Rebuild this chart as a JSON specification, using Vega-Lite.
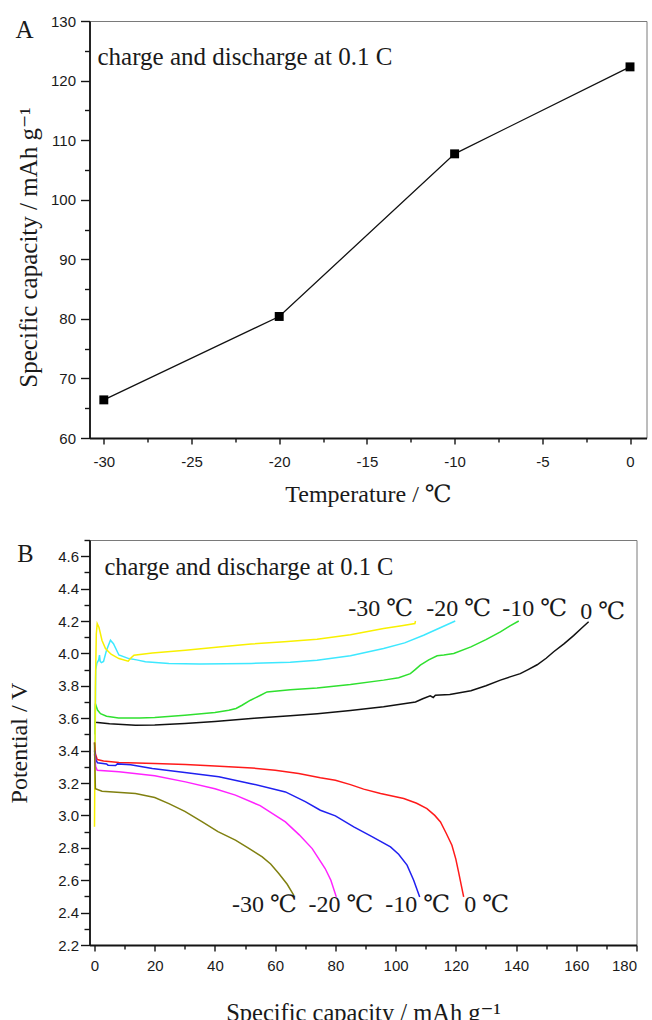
{
  "$schema": "https://vega.github.io/schema/vega-lite/v6.json",
  "background": "white",
  "padding": {"left": 6.5, "top": 13, "right": 0, "bottom": 0},
  "columns": 1,
  "spacing": 31,
  "config": {
    "locale": {"number": {"decimal": ".", "thousands": ",", "grouping": [3], "currency": ["$", ""], "minus": "-"}},
    "view": {"stroke": "#7a7a7a", "strokeWidth": 1},
    "axis": {"grid": false, "domainColor": "#141414", "domainWidth": 1.8, "tickColor": "#141414", "tickWidth": 1.4, "labelFont": "Liberation Sans", "labelFontSize": 15, "labelColor": "#1a1a1a", "titleFont": "Liberation Serif, DejaVu Serif", "titleFontWeight": "normal", "titleColor": "#1a1a1a"}
  },
  "datasets": {
    "capacityA": [
      {"temperature": -30, "capacity": 66.4},
      {"temperature": -20, "capacity": 80.4},
      {"temperature": -10, "capacity": 107.7},
      {"temperature": 0, "capacity": 122.3}
    ],
    "noteA": [
      {"label": "charge and discharge at 0.1 C", "x": -30.36, "y": 122.6},
      {"label": "A", "x": -35.04, "y": 127.15}
    ],
    "noteB": [
      {"label": "charge and discharge at 0.1 C", "cap": 3.3, "v": 4.485},
      {"label": "B", "cap": -25.66, "v": 4.565}
    ],
    "labelsB": [
      {"label": "-30 ℃", "cap": 84.3, "v": 4.23},
      {"label": "-20 ℃", "cap": 110.2, "v": 4.23},
      {"label": "-10 ℃", "cap": 135.4, "v": 4.23},
      {"label": "0 ℃", "cap": 161.3, "v": 4.21},
      {"label": "-30 ℃", "cap": 45.7, "v": 2.404},
      {"label": "-20 ℃", "cap": 71.1, "v": 2.404},
      {"label": "-10 ℃", "cap": 96.6, "v": 2.404},
      {"label": "0 ℃", "cap": 122.8, "v": 2.404}
    ],
    "curves": [
      {"s": "0 ℃ charge", "cap": 0.1, "v": 3.58},
      {"s": "0 ℃ charge", "cap": 0.3, "v": 3.575},
      {"s": "0 ℃ charge", "cap": 5, "v": 3.565},
      {"s": "0 ℃ charge", "cap": 13.6, "v": 3.557},
      {"s": "0 ℃ charge", "cap": 20, "v": 3.558},
      {"s": "0 ℃ charge", "cap": 30, "v": 3.567},
      {"s": "0 ℃ charge", "cap": 40, "v": 3.58},
      {"s": "0 ℃ charge", "cap": 53, "v": 3.6},
      {"s": "0 ℃ charge", "cap": 65, "v": 3.615},
      {"s": "0 ℃ charge", "cap": 74, "v": 3.628},
      {"s": "0 ℃ charge", "cap": 85, "v": 3.648},
      {"s": "0 ℃ charge", "cap": 96, "v": 3.67},
      {"s": "0 ℃ charge", "cap": 106.6, "v": 3.7},
      {"s": "0 ℃ charge", "cap": 109, "v": 3.72},
      {"s": "0 ℃ charge", "cap": 111.5, "v": 3.738},
      {"s": "0 ℃ charge", "cap": 112.5, "v": 3.728},
      {"s": "0 ℃ charge", "cap": 113.2, "v": 3.742},
      {"s": "0 ℃ charge", "cap": 118, "v": 3.746},
      {"s": "0 ℃ charge", "cap": 125, "v": 3.77},
      {"s": "0 ℃ charge", "cap": 130, "v": 3.8},
      {"s": "0 ℃ charge", "cap": 134.8, "v": 3.835},
      {"s": "0 ℃ charge", "cap": 138, "v": 3.855},
      {"s": "0 ℃ charge", "cap": 141.4, "v": 3.875},
      {"s": "0 ℃ charge", "cap": 144, "v": 3.9},
      {"s": "0 ℃ charge", "cap": 147, "v": 3.93},
      {"s": "0 ℃ charge", "cap": 150, "v": 3.97},
      {"s": "0 ℃ charge", "cap": 152.5, "v": 4.01},
      {"s": "0 ℃ charge", "cap": 156, "v": 4.06},
      {"s": "0 ℃ charge", "cap": 159.1, "v": 4.11},
      {"s": "0 ℃ charge", "cap": 162, "v": 4.16},
      {"s": "0 ℃ charge", "cap": 164.1, "v": 4.195},

      {"s": "-10 ℃ charge", "cap": 0.1, "v": 3.5},
      {"s": "-10 ℃ charge", "cap": 0.3, "v": 3.69},
      {"s": "-10 ℃ charge", "cap": 1, "v": 3.65},
      {"s": "-10 ℃ charge", "cap": 2, "v": 3.628},
      {"s": "-10 ℃ charge", "cap": 4, "v": 3.612},
      {"s": "-10 ℃ charge", "cap": 8, "v": 3.602},
      {"s": "-10 ℃ charge", "cap": 15, "v": 3.602},
      {"s": "-10 ℃ charge", "cap": 20, "v": 3.605},
      {"s": "-10 ℃ charge", "cap": 30, "v": 3.618},
      {"s": "-10 ℃ charge", "cap": 40, "v": 3.635},
      {"s": "-10 ℃ charge", "cap": 44.6, "v": 3.649},
      {"s": "-10 ℃ charge", "cap": 47, "v": 3.66},
      {"s": "-10 ℃ charge", "cap": 49, "v": 3.68},
      {"s": "-10 ℃ charge", "cap": 51.8, "v": 3.711},
      {"s": "-10 ℃ charge", "cap": 55, "v": 3.74},
      {"s": "-10 ℃ charge", "cap": 57.3, "v": 3.762},
      {"s": "-10 ℃ charge", "cap": 65, "v": 3.775},
      {"s": "-10 ℃ charge", "cap": 73.9, "v": 3.787},
      {"s": "-10 ℃ charge", "cap": 85, "v": 3.808},
      {"s": "-10 ℃ charge", "cap": 96, "v": 3.835},
      {"s": "-10 ℃ charge", "cap": 101, "v": 3.85},
      {"s": "-10 ℃ charge", "cap": 104.9, "v": 3.875},
      {"s": "-10 ℃ charge", "cap": 106.5, "v": 3.9},
      {"s": "-10 ℃ charge", "cap": 108.2, "v": 3.927},
      {"s": "-10 ℃ charge", "cap": 111, "v": 3.96},
      {"s": "-10 ℃ charge", "cap": 113.8, "v": 3.985},
      {"s": "-10 ℃ charge", "cap": 116, "v": 3.99},
      {"s": "-10 ℃ charge", "cap": 119.3, "v": 3.999},
      {"s": "-10 ℃ charge", "cap": 125, "v": 4.04},
      {"s": "-10 ℃ charge", "cap": 130, "v": 4.085},
      {"s": "-10 ℃ charge", "cap": 134.8, "v": 4.133},
      {"s": "-10 ℃ charge", "cap": 138, "v": 4.17},
      {"s": "-10 ℃ charge", "cap": 140.9, "v": 4.2},

      {"s": "-20 ℃ charge", "cap": 0.2, "v": 3.4},
      {"s": "-20 ℃ charge", "cap": 0.4, "v": 3.9},
      {"s": "-20 ℃ charge", "cap": 0.8, "v": 3.94},
      {"s": "-20 ℃ charge", "cap": 1.4, "v": 3.96},
      {"s": "-20 ℃ charge", "cap": 1.66, "v": 3.99},
      {"s": "-20 ℃ charge", "cap": 1.9, "v": 3.95},
      {"s": "-20 ℃ charge", "cap": 2.3, "v": 3.943},
      {"s": "-20 ℃ charge", "cap": 3, "v": 3.95},
      {"s": "-20 ℃ charge", "cap": 4, "v": 4.02},
      {"s": "-20 ℃ charge", "cap": 5.3, "v": 4.081},
      {"s": "-20 ℃ charge", "cap": 6.3, "v": 4.06},
      {"s": "-20 ℃ charge", "cap": 8.1, "v": 3.99},
      {"s": "-20 ℃ charge", "cap": 11.4, "v": 3.968},
      {"s": "-20 ℃ charge", "cap": 14, "v": 3.96},
      {"s": "-20 ℃ charge", "cap": 16.9, "v": 3.948},
      {"s": "-20 ℃ charge", "cap": 24.7, "v": 3.937},
      {"s": "-20 ℃ charge", "cap": 35, "v": 3.935},
      {"s": "-20 ℃ charge", "cap": 52, "v": 3.938},
      {"s": "-20 ℃ charge", "cap": 65, "v": 3.945},
      {"s": "-20 ℃ charge", "cap": 73.9, "v": 3.958},
      {"s": "-20 ℃ charge", "cap": 85, "v": 3.985},
      {"s": "-20 ℃ charge", "cap": 96, "v": 4.03},
      {"s": "-20 ℃ charge", "cap": 103, "v": 4.065},
      {"s": "-20 ℃ charge", "cap": 109.3, "v": 4.112},
      {"s": "-20 ℃ charge", "cap": 115, "v": 4.16},
      {"s": "-20 ℃ charge", "cap": 119.8, "v": 4.2},

      {"s": "-30 ℃ charge", "cap": 0, "v": 2.93},
      {"s": "-30 ℃ charge", "cap": 0.3, "v": 3.8},
      {"s": "-30 ℃ charge", "cap": 0.6, "v": 4.12},
      {"s": "-30 ℃ charge", "cap": 0.9, "v": 4.184},
      {"s": "-30 ℃ charge", "cap": 1.5, "v": 4.16},
      {"s": "-30 ℃ charge", "cap": 2.5, "v": 4.08},
      {"s": "-30 ℃ charge", "cap": 3.65, "v": 4.03},
      {"s": "-30 ℃ charge", "cap": 5.5, "v": 3.995},
      {"s": "-30 ℃ charge", "cap": 8.1, "v": 3.968},
      {"s": "-30 ℃ charge", "cap": 11.2, "v": 3.952},
      {"s": "-30 ℃ charge", "cap": 12, "v": 3.97},
      {"s": "-30 ℃ charge", "cap": 13.1, "v": 3.989},
      {"s": "-30 ℃ charge", "cap": 19.2, "v": 4.003},
      {"s": "-30 ℃ charge", "cap": 30.2, "v": 4.02},
      {"s": "-30 ℃ charge", "cap": 41.3, "v": 4.04},
      {"s": "-30 ℃ charge", "cap": 52, "v": 4.058},
      {"s": "-30 ℃ charge", "cap": 63, "v": 4.072},
      {"s": "-30 ℃ charge", "cap": 73.9, "v": 4.087},
      {"s": "-30 ℃ charge", "cap": 85, "v": 4.115},
      {"s": "-30 ℃ charge", "cap": 96, "v": 4.153},
      {"s": "-30 ℃ charge", "cap": 102, "v": 4.17},
      {"s": "-30 ℃ charge", "cap": 106.4, "v": 4.184},
      {"s": "-30 ℃ charge", "cap": 106.6, "v": 4.2},

      {"s": "0 ℃ discharge", "cap": 0, "v": 3.45},
      {"s": "0 ℃ discharge", "cap": 0.3, "v": 3.38},
      {"s": "0 ℃ discharge", "cap": 0.9, "v": 3.345},
      {"s": "0 ℃ discharge", "cap": 3, "v": 3.336},
      {"s": "0 ℃ discharge", "cap": 8.1, "v": 3.326},
      {"s": "0 ℃ discharge", "cap": 20, "v": 3.32},
      {"s": "0 ℃ discharge", "cap": 30.2, "v": 3.314},
      {"s": "0 ℃ discharge", "cap": 40, "v": 3.305},
      {"s": "0 ℃ discharge", "cap": 52.3, "v": 3.293},
      {"s": "0 ℃ discharge", "cap": 60, "v": 3.278},
      {"s": "0 ℃ discharge", "cap": 67.8, "v": 3.258},
      {"s": "0 ℃ discharge", "cap": 75, "v": 3.232},
      {"s": "0 ℃ discharge", "cap": 80, "v": 3.217},
      {"s": "0 ℃ discharge", "cap": 85, "v": 3.19},
      {"s": "0 ℃ discharge", "cap": 89.4, "v": 3.162},
      {"s": "0 ℃ discharge", "cap": 95, "v": 3.135},
      {"s": "0 ℃ discharge", "cap": 102.7, "v": 3.104},
      {"s": "0 ℃ discharge", "cap": 107, "v": 3.075},
      {"s": "0 ℃ discharge", "cap": 110.4, "v": 3.042},
      {"s": "0 ℃ discharge", "cap": 113, "v": 3.0},
      {"s": "0 ℃ discharge", "cap": 114.9, "v": 2.96},
      {"s": "0 ℃ discharge", "cap": 116.8, "v": 2.89},
      {"s": "0 ℃ discharge", "cap": 118.7, "v": 2.816},
      {"s": "0 ℃ discharge", "cap": 120, "v": 2.73},
      {"s": "0 ℃ discharge", "cap": 120.9, "v": 2.651},
      {"s": "0 ℃ discharge", "cap": 121.8, "v": 2.57},
      {"s": "0 ℃ discharge", "cap": 122.6, "v": 2.497},

      {"s": "-10 ℃ discharge", "cap": 0, "v": 3.4},
      {"s": "-10 ℃ discharge", "cap": 0.5, "v": 3.34},
      {"s": "-10 ℃ discharge", "cap": 1, "v": 3.325},
      {"s": "-10 ℃ discharge", "cap": 4, "v": 3.318},
      {"s": "-10 ℃ discharge", "cap": 4.5, "v": 3.31},
      {"s": "-10 ℃ discharge", "cap": 7, "v": 3.308},
      {"s": "-10 ℃ discharge", "cap": 7.6, "v": 3.318},
      {"s": "-10 ℃ discharge", "cap": 12, "v": 3.312},
      {"s": "-10 ℃ discharge", "cap": 19.2, "v": 3.289},
      {"s": "-10 ℃ discharge", "cap": 30, "v": 3.265},
      {"s": "-10 ℃ discharge", "cap": 41.3, "v": 3.238},
      {"s": "-10 ℃ discharge", "cap": 52, "v": 3.196},
      {"s": "-10 ℃ discharge", "cap": 63.4, "v": 3.145},
      {"s": "-10 ℃ discharge", "cap": 70, "v": 3.085},
      {"s": "-10 ℃ discharge", "cap": 75, "v": 3.032},
      {"s": "-10 ℃ discharge", "cap": 80, "v": 2.997},
      {"s": "-10 ℃ discharge", "cap": 86.1, "v": 2.929},
      {"s": "-10 ℃ discharge", "cap": 92, "v": 2.87},
      {"s": "-10 ℃ discharge", "cap": 98.3, "v": 2.806},
      {"s": "-10 ℃ discharge", "cap": 101, "v": 2.76},
      {"s": "-10 ℃ discharge", "cap": 103.8, "v": 2.693},
      {"s": "-10 ℃ discharge", "cap": 106, "v": 2.6},
      {"s": "-10 ℃ discharge", "cap": 108, "v": 2.497},

      {"s": "-20 ℃ discharge", "cap": 0, "v": 3.38},
      {"s": "-20 ℃ discharge", "cap": 0.4, "v": 3.3},
      {"s": "-20 ℃ discharge", "cap": 0.9, "v": 3.279},
      {"s": "-20 ℃ discharge", "cap": 8.1, "v": 3.269},
      {"s": "-20 ℃ discharge", "cap": 20, "v": 3.245},
      {"s": "-20 ℃ discharge", "cap": 30.2, "v": 3.207},
      {"s": "-20 ℃ discharge", "cap": 40, "v": 3.165},
      {"s": "-20 ℃ discharge", "cap": 46.8, "v": 3.125},
      {"s": "-20 ℃ discharge", "cap": 55, "v": 3.06},
      {"s": "-20 ℃ discharge", "cap": 63.4, "v": 2.96},
      {"s": "-20 ℃ discharge", "cap": 68, "v": 2.88},
      {"s": "-20 ℃ discharge", "cap": 72.3, "v": 2.795},
      {"s": "-20 ℃ discharge", "cap": 76.6, "v": 2.672},
      {"s": "-20 ℃ discharge", "cap": 78.5, "v": 2.6},
      {"s": "-20 ℃ discharge", "cap": 80.3, "v": 2.497},

      {"s": "-30 ℃ discharge", "cap": 0, "v": 3.45},
      {"s": "-30 ℃ discharge", "cap": 0.2, "v": 3.25},
      {"s": "-30 ℃ discharge", "cap": 0.3, "v": 3.165},
      {"s": "-30 ℃ discharge", "cap": 2.5, "v": 3.149},
      {"s": "-30 ℃ discharge", "cap": 13.6, "v": 3.135},
      {"s": "-30 ℃ discharge", "cap": 20, "v": 3.11},
      {"s": "-30 ℃ discharge", "cap": 24.7, "v": 3.073},
      {"s": "-30 ℃ discharge", "cap": 30, "v": 3.025},
      {"s": "-30 ℃ discharge", "cap": 35.8, "v": 2.96},
      {"s": "-30 ℃ discharge", "cap": 41, "v": 2.9},
      {"s": "-30 ℃ discharge", "cap": 46.8, "v": 2.847},
      {"s": "-30 ℃ discharge", "cap": 51, "v": 2.8},
      {"s": "-30 ℃ discharge", "cap": 55.7, "v": 2.744},
      {"s": "-30 ℃ discharge", "cap": 58.5, "v": 2.7},
      {"s": "-30 ℃ discharge", "cap": 61.2, "v": 2.641},
      {"s": "-30 ℃ discharge", "cap": 64, "v": 2.575},
      {"s": "-30 ℃ discharge", "cap": 66.2, "v": 2.507}
    ]
  },
  "concat": [
    {
      "width": 557,
      "height": 417,
      "layer": [
        {
          "data": {"name": "capacityA"},
          "mark": {"type": "line", "color": "#111111", "strokeWidth": 1.3},
          "encoding": {
            "x": {"field": "temperature", "type": "quantitative",
                  "scale": {"domain": [-30.816, 0.94], "nice": false, "zero": false},
                  "axis": {"orient": "bottom", "values": [-30, -25, -20, -15, -10, -5, 0], "tickSize": 6, "labelPadding": 10, "title": "Temperature / ℃", "titleFontSize": 24, "titlePadding": 13}},
            "y": {"field": "capacity", "type": "quantitative",
                  "scale": {"domain": [60, 130], "nice": false, "zero": false},
                  "axis": {"orient": "left", "values": [60, 70, 80, 90, 100, 110, 120, 130], "tickSize": 9, "labelPadding": 5, "title": "Specific capacity / mAh g⁻¹", "titleFontSize": 25, "titlePadding": 8.7, "titleY": 226}}
          }
        },
        {
          "data": {"name": "capacityA"},
          "mark": {"type": "square", "color": "#000000", "size": 80, "opacity": 1},
          "encoding": {
            "x": {"field": "temperature", "type": "quantitative",
                  "axis": {"orient": "bottom", "values": [-27.5, -22.5, -17.5, -12.5, -7.5, -2.5], "tickSize": 4, "labels": false, "domain": false, "title": null}},
            "y": {"field": "capacity", "type": "quantitative",
                  "axis": {"orient": "left", "values": [65, 75, 85, 95, 105, 115, 125], "tickSize": 5, "labels": false, "domain": false, "title": null}}
          }
        },
        {
          "data": {"name": "noteA"},
          "mark": {"type": "text", "align": "left", "baseline": "alphabetic", "font": "Liberation Serif", "fontSize": 25, "color": "#1a1a1a"},
          "encoding": {
            "x": {"field": "x", "type": "quantitative", "axis": null},
            "y": {"field": "y", "type": "quantitative", "axis": null},
            "text": {"field": "label"}
          }
        }
      ],
      "resolve": {"axis": {"x": "independent", "y": "independent"}}
    },
    {
      "width": 547,
      "height": 405,
      "layer": [
        {
          "data": {"name": "curves"},
          "mark": {"type": "line", "strokeWidth": 1.5},
          "encoding": {
            "x": {"field": "cap", "type": "quantitative",
                  "scale": {"domain": [-1.66, 180], "nice": false, "zero": false},
                  "axis": {"orient": "bottom", "values": [0, 20, 40, 60, 80, 100, 120, 140, 160, 180], "tickSize": 6, "labelPadding": 7, "title": "Specific capacity / mAh g⁻¹", "titleFontSize": 24.5, "titlePadding": 28.5}},
            "y": {"field": "v", "type": "quantitative",
                  "scale": {"domain": [2.2, 4.7], "nice": false, "zero": false},
                  "axis": {"orient": "left", "values": [2.2, 2.4, 2.6, 2.8, 3.0, 3.2, 3.4, 3.6, 3.8, 4.0, 4.2, 4.4, 4.6], "format": ".1f", "tickSize": 9, "labelPadding": 2, "title": "Potential / V", "titleFontSize": 24, "titlePadding": 26.5}},
            "color": {"field": "s", "type": "nominal", "legend": null,
                      "scale": {"domain": ["0 ℃ charge", "-10 ℃ charge", "-20 ℃ charge", "-30 ℃ charge", "0 ℃ discharge", "-10 ℃ discharge", "-20 ℃ discharge", "-30 ℃ discharge"],
                                "range": ["#111111", "#2fe02f", "#3de8ff", "#f8f000", "#ff1a1a", "#2020f0", "#ff22ff", "#808010"]}}
          }
        },
        {
          "data": {"name": "labelsB"},
          "mark": {"type": "text", "align": "left", "baseline": "alphabetic", "font": "Liberation Serif, DejaVu Serif", "fontSize": 24, "color": "#1a1a1a"},
          "encoding": {
            "x": {"field": "cap", "type": "quantitative",
                  "axis": {"orient": "bottom", "values": [10, 30, 50, 70, 90, 110, 130, 150, 170], "tickSize": 4, "labels": false, "domain": false, "title": null}},
            "y": {"field": "v", "type": "quantitative",
                  "axis": {"orient": "left", "values": [2.3, 2.5, 2.7, 2.9, 3.1, 3.3, 3.5, 3.7, 3.9, 4.1, 4.3, 4.5, 4.7], "tickSize": 5.5, "labels": false, "domain": false, "title": null}},
            "text": {"field": "label"}
          }
        },
        {
          "data": {"name": "noteB"},
          "mark": {"type": "text", "align": "left", "baseline": "alphabetic", "font": "Liberation Serif", "fontSize": 24.5, "color": "#1a1a1a"},
          "encoding": {
            "x": {"field": "cap", "type": "quantitative", "axis": null},
            "y": {"field": "v", "type": "quantitative", "axis": null},
            "text": {"field": "label"}
          }
        }
      ],
      "resolve": {"axis": {"x": "independent", "y": "independent"}}
    }
  ]
}
